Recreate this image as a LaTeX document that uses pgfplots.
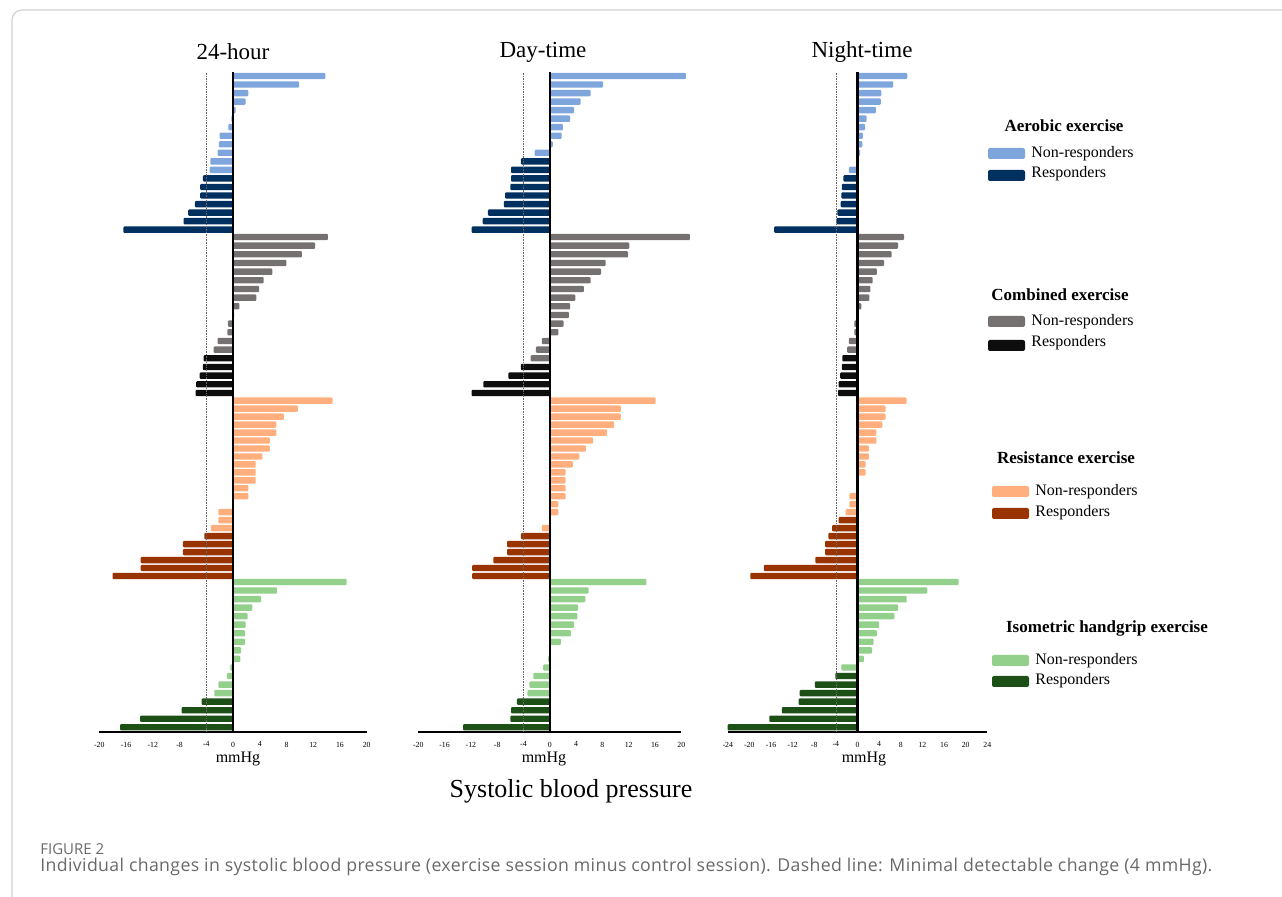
\documentclass[border=0pt]{standalone}
\usepackage{pgfplots}
\pgfplotsset{compat=1.18}
\usepackage{fontspec}
\setmainfont{Liberation Serif}
\newfontfamily\capfont{Open Sans}
\newfontfamily\capfontsp[LetterSpace=2]{Open Sans}
\definecolor{aeroNR}{RGB}{126,166,220}
\definecolor{aeroR}{RGB}{0,48,96}
\definecolor{combNR}{RGB}{118,113,113}
\definecolor{combR}{RGB}{13,13,13}
\definecolor{resNR}{RGB}{255,175,125}
\definecolor{resR}{RGB}{153,51,0}
\definecolor{isoNR}{RGB}{146,208,140}
\definecolor{isoR}{RGB}{28,80,22}
\definecolor{capgray}{RGB}{105,105,105}
\pgfplotsset{panel/.style={
  scale only axis, height=330pt, anchor=south west,
  ymin=-732, ymax=-72, clip=false,
  axis x line*=bottom, axis y line=none,
  x axis line style={line width=0.9pt},
  ytick=\empty, major tick length=0pt,
  xticklabel style={font=\fontsize{3.9}{4}\selectfont, yshift=-1.4pt},
  /pgf/number format/assume math mode=true,
  every axis plot/.append style={xbar, bar width=3.2pt, bar shift=0pt, draw=none, rounded corners=0.5pt},
}}
\newcommand{\reflines}{%
  \draw[black!60, dash pattern=on 0.8pt off 0.5pt, line width=0.3pt] (axis cs:-4,-73) -- (axis cs:-4,-732);
  \draw[black, line width=1.1pt] (axis cs:0,-72) -- (axis cs:0,-732);}
\begin{document}
\begin{tikzpicture}
\path[use as bounding box] (0,0) rectangle (641pt,-448.5pt);
% ---------------- 24-hour ----------------
\begin{axis}[panel, at={(49.65pt,-366pt)}, width=133.7pt, xmin=-20, xmax=20, xtick={-20,-16,...,20}]
\addplot[fill=aeroNR] coordinates {(13.8,-76.0) (9.9,-84.5) (2.3,-93.1) (1.9,-101.6) (0.4,-110.1) (-0.25,-118.7) (-0.7,-127.2) (-2.0,-135.8) (-2.1,-144.3) (-2.3,-152.8) (-3.4,-161.4) (-3.5,-169.9)};
\addplot[fill=aeroR] coordinates {(-4.5,-178.4) (-4.9,-187.0) (-4.9,-195.5) (-5.7,-204.1) (-6.7,-212.6) (-7.4,-221.1) (-16.4,-229.7)};
\addplot[fill=combNR] coordinates {(14.2,-237.0) (12.3,-245.7) (10.3,-254.3) (8.0,-263.0) (5.9,-271.7) (4.6,-280.3) (3.9,-289.0) (3.5,-297.7) (0.95,-306.3) (0.15,-315.0) (-0.75,-323.7) (-0.85,-332.3) (-2.3,-341.0) (-2.9,-349.7)};
\addplot[fill=combR] coordinates {(-4.4,-358.3) (-4.5,-367.0) (-5.0,-375.7) (-5.5,-384.3) (-5.6,-393.0)};
\addplot[fill=resNR] coordinates {(14.9,-400.7) (9.7,-408.7) (7.6,-416.6) (6.5,-424.6) (6.5,-432.6) (5.5,-440.5) (5.5,-448.5) (4.4,-456.5) (3.4,-464.4) (3.4,-472.4) (3.4,-480.4) (2.3,-488.3) (2.3,-496.3) (-2.2,-512.2) (-2.2,-520.2) (-3.3,-528.2)};
\addplot[fill=resR] coordinates {(-4.3,-536.1) (-7.5,-544.1) (-7.5,-552.1) (-13.8,-560.1) (-13.8,-568.0) (-18.0,-576.0)};
\addplot[fill=isoNR] coordinates {(17.0,-582.0) (6.6,-590.5) (4.2,-599.1) (2.9,-607.6) (2.2,-616.2) (1.9,-624.7) (1.8,-633.3) (1.8,-641.8) (1.2,-650.4) (1.1,-658.9) (-0.4,-667.5) (-0.9,-676.0) (-2.2,-684.6) (-2.8,-693.1)};
\addplot[fill=isoR] coordinates {(-4.7,-701.7) (-7.7,-710.3) (-13.9,-718.8) (-16.9,-727.3)};
\reflines
\end{axis}
% ---------------- Day-time ----------------
\begin{axis}[panel, at={(209.15pt,-366pt)}, width=131.5pt, xmin=-20, xmax=20, xtick={-20,-16,...,20}]
\addplot[fill=aeroNR] coordinates {(20.7,-76.0) (8.1,-84.5) (6.2,-93.1) (4.7,-101.6) (3.7,-110.1) (3.1,-118.7) (2.0,-127.2) (1.8,-135.8) (0.45,-144.3) (-2.3,-152.8)};
\addplot[fill=aeroR] coordinates {(-4.4,-161.4) (-5.9,-169.9) (-5.9,-178.4) (-6.0,-187.0) (-6.8,-195.5) (-7.0,-204.1) (-9.4,-212.6) (-10.2,-221.1) (-11.9,-229.7)};
\addplot[fill=combNR] coordinates {(21.3,-237.0) (12.1,-245.7) (11.9,-254.3) (8.5,-263.0) (7.8,-271.7) (6.2,-280.3) (5.2,-289.0) (3.9,-297.7) (3.1,-306.3) (2.9,-315.0) (2.1,-323.7) (1.3,-332.3) (-1.2,-341.0) (-2.1,-349.7) (-2.9,-358.3)};
\addplot[fill=combR] coordinates {(-4.4,-367.0) (-6.3,-375.7) (-10.1,-384.3) (-11.9,-393.0)};
\addplot[fill=resNR] coordinates {(16.1,-400.7) (10.8,-408.7) (10.8,-416.6) (9.8,-424.6) (8.7,-432.6) (6.6,-440.5) (5.5,-448.5) (4.5,-456.5) (3.5,-464.4) (2.4,-472.4) (2.4,-480.4) (2.4,-488.3) (2.4,-496.3) (1.3,-504.3) (1.3,-512.2) (-1.2,-528.2)};
\addplot[fill=resR] coordinates {(-4.4,-536.1) (-6.5,-544.1) (-6.5,-552.1) (-8.6,-560.1) (-11.8,-568.0) (-11.8,-576.0)};
\addplot[fill=isoNR] coordinates {(14.7,-582.0) (5.9,-590.5) (5.4,-599.1) (4.3,-607.6) (4.2,-616.2) (3.7,-624.7) (3.2,-633.3) (1.7,-641.8) (-0.25,-658.9) (-1.0,-667.5) (-2.5,-676.0) (-3.1,-684.6) (-3.4,-693.1)};
\addplot[fill=isoR] coordinates {(-5.0,-701.7) (-5.9,-710.3) (-6.0,-718.8) (-13.2,-727.3)};
\reflines
\end{axis}
% ---------------- Night-time ----------------
\begin{axis}[panel, at={(363.85pt,-366pt)}, width=129.8pt, xmin=-24, xmax=24, xtick={-24,-20,...,24}]
\addplot[fill=aeroNR] coordinates {(9.2,-76.0) (6.6,-84.5) (4.4,-93.1) (4.3,-101.6) (3.4,-110.1) (1.7,-118.7) (1.4,-127.2) (1.0,-135.8) (0.9,-144.3) (0.5,-152.8) (0.3,-161.4) (-1.6,-169.9)};
\addplot[fill=aeroR] coordinates {(-2.6,-178.4) (-2.9,-187.0) (-3.0,-195.5) (-3.1,-204.1) (-3.7,-212.6) (-3.9,-221.1) (-15.4,-229.7)};
\addplot[fill=combNR] coordinates {(8.6,-237.0) (7.5,-245.7) (6.3,-254.3) (4.9,-263.0) (3.6,-271.7) (2.8,-280.3) (2.4,-289.0) (2.2,-297.7) (0.7,-306.3) (0.2,-315.0) (-0.6,-323.7) (-0.6,-332.3) (-1.6,-341.0) (-1.9,-349.7)};
\addplot[fill=combR] coordinates {(-2.8,-358.3) (-2.9,-367.0) (-3.2,-375.7) (-3.5,-384.3) (-3.6,-393.0)};
\addplot[fill=resNR] coordinates {(9.1,-400.7) (5.2,-408.7) (5.2,-416.6) (4.6,-424.6) (3.5,-432.6) (3.5,-440.5) (2.1,-448.5) (2.1,-456.5) (1.5,-464.4) (1.5,-472.4) (-1.5,-496.3) (-1.5,-504.3) (-2.2,-512.2)};
\addplot[fill=resR] coordinates {(-3.5,-520.2) (-4.7,-528.2) (-5.4,-536.1) (-6.0,-544.1) (-6.0,-552.1) (-7.8,-560.1) (-17.3,-568.0) (-19.8,-576.0)};
\addplot[fill=isoNR] coordinates {(18.7,-582.0) (12.9,-590.5) (9.1,-599.1) (7.5,-607.6) (6.8,-616.2) (4.0,-624.7) (3.6,-633.3) (3.0,-641.8) (2.7,-650.4) (1.2,-658.9) (-3.0,-667.5)};
\addplot[fill=isoR] coordinates {(-4.1,-676.0) (-7.9,-684.6) (-10.7,-693.1) (-10.9,-701.7) (-14.0,-710.3) (-16.3,-718.8) (-24.0,-727.3)};
\reflines
\end{axis}
% ---------------- texts, legend, frame ----------------
\begin{scope}[x=0.5pt,y=-0.5pt]
\draw[black!18, line width=0.6pt, rounded corners=5pt] (12,897) -- (12,10) -- (1282,10);
\node[font=\fontsize{11.5}{13}\selectfont] at (233,52) {24-hour};
\node[font=\fontsize{11.5}{13}\selectfont] at (543,52) {Day-time};
\node[font=\fontsize{11.5}{13}\selectfont] at (862,52) {Night-time};
\node[font=\fontsize{8}{9}\selectfont] at (238,759) {mmHg};
\node[font=\fontsize{8}{9}\selectfont] at (544,759) {mmHg};
\node[font=\fontsize{8}{9}\selectfont] at (864,759) {mmHg};
\node[font=\fontsize{13}{15}\selectfont] at (571,791) {Systolic blood pressure};
% legend
\node[font=\bfseries\fontsize{8.5}{10}\selectfont] at (1064,126) {Aerobic exercise};
\fill[aeroNR, rounded corners=1pt] (988,148) rectangle (1025,159);
\fill[aeroR, rounded corners=1pt] (988,170) rectangle (1025,181);
\node[anchor=west, inner sep=0pt, font=\fontsize{8}{9}\selectfont] at (1031,154) {Non-responders};
\node[anchor=west, inner sep=0pt, font=\fontsize{8}{9}\selectfont] at (1031,174) {Responders};
\node[font=\bfseries\fontsize{8.5}{10}\selectfont] at (1060,295) {Combined exercise};
\fill[combNR, rounded corners=1pt] (988,316) rectangle (1025,327);
\fill[combR, rounded corners=1pt] (988,340) rectangle (1025,351);
\node[anchor=west, inner sep=0pt, font=\fontsize{8}{9}\selectfont] at (1031,322) {Non-responders};
\node[anchor=west, inner sep=0pt, font=\fontsize{8}{9}\selectfont] at (1031,343) {Responders};
\node[font=\bfseries\fontsize{8.5}{10}\selectfont] at (1066,458) {Resistance exercise};
\fill[resNR, rounded corners=1pt] (992,486) rectangle (1029,497);
\fill[resR, rounded corners=1pt] (992,508) rectangle (1029,519);
\node[anchor=west, inner sep=0pt, font=\fontsize{8}{9}\selectfont] at (1035,492) {Non-responders};
\node[anchor=west, inner sep=0pt, font=\fontsize{8}{9}\selectfont] at (1035,513) {Responders};
\node[font=\bfseries\fontsize{8.5}{10}\selectfont] at (1107,628) {Isometric handgrip exercise};
\fill[isoNR, rounded corners=1pt] (992,655) rectangle (1029,666);
\fill[isoR, rounded corners=1pt] (992,676) rectangle (1029,687);
\node[anchor=west, inner sep=0pt, font=\fontsize{8}{9}\selectfont] at (1035,661) {Non-responders};
\node[anchor=west, inner sep=0pt, font=\fontsize{8}{9}\selectfont] at (1035,681) {Responders};
% caption
\node[anchor=west, inner sep=0pt, text=capgray, font=\capfont\fontsize{7.5}{9}\selectfont] at (40,849) {FIGURE 2};
\node[anchor=west, inner sep=0pt, text=capgray, font=\capfontsp\fontsize{8.85}{10}\selectfont] at (40,867) {Individual changes in systolic blood pressure (exercise session minus control session). Dashed line: Minimal detectable change (4 mmHg).};
\end{scope}
\end{tikzpicture}
\end{document}
